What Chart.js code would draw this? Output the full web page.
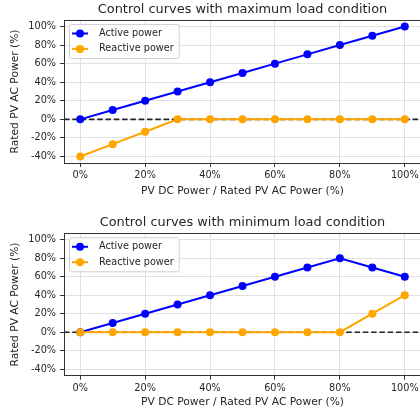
<!DOCTYPE html>
<html>
<head>
<meta charset="utf-8">
<script src="https://cdn.jsdelivr.net/npm/chart.js@4.4.1/dist/chart.umd.min.js"></script>
<style>
  html, body { margin: 0; padding: 0; background: #fff; width: 420px; height: 414px; overflow: hidden; }
  .panel { position: absolute; left: 0; width: 420px; overflow: hidden; }
  canvas { display: block; }
</style>
</head>
<body>
<div class="panel" style="top:0;height:200px"><canvas id="maxLoad" width="440" height="200" style="width:440px;height:200px"></canvas></div>
<div class="panel" style="top:200px;height:214px"><canvas id="minLoad" width="440" height="214" style="width:440px;height:214px"></canvas></div>
<script>
// PV DC power / rated AC power (%) at each control point
const dcPower = [0, 10, 20, 30, 40, 50, 60, 70, 80, 90, 100];

// maximum load condition
const activeMax = [0, 10, 20, 30, 40, 50, 60, 70, 80, 90, 100];
const reactiveMax = [-40, -26.7, -13.3, 0, 0, 0, 0, 0, 0, 0, 0];

// minimum load condition
const activeMin = [0, 10, 20, 30, 40, 50, 60, 70, 80, 70, 60];
const reactiveMin = [0, 0, 0, 0, 0, 0, 0, 0, 0, 20, 40];

const xTicks = [0, 20, 40, 60, 80, 100];
const yTicks = [-40, -20, 0, 20, 40, 60, 80, 100];
const xRange = [-5, 105];
const yRange = [-47, 107];

const FONT = 'DejaVu Sans';
const TEXT = '#262626';

const pts = (ys) => dcPower.map((x, i) => ({ x, y: ys[i] }));

// box around the plot area + legend drawn inside, top-left
const framePlugin = {
  id: 'frameAndLegend',
  afterDraw(chart) {
    const { ctx, chartArea: a } = chart;
    ctx.save();
    ctx.strokeStyle = '#333';
    ctx.lineWidth = 1;
    ctx.strokeRect(Math.round(a.left) + 0.5, Math.round(a.top) + 0.5,
      Math.round(a.right - a.left), Math.round(a.bottom - a.top));

    const items = chart.data.datasets.filter(d => d.label);
    ctx.font = '9.7px "' + FONT + '"';
    const textW = Math.max(...items.map(d => ctx.measureText(d.label).width));
    const bx = a.left + 5, by = a.top + 4;
    const bw = 30 + textW + 5, bh = 34;
    ctx.fillStyle = 'rgba(255,255,255,0.85)';
    ctx.strokeStyle = '#d0d0d0';
    ctx.beginPath();
    ctx.roundRect(bx + 0.5, by + 0.5, bw, bh, 2);
    ctx.fill();
    ctx.stroke();
    items.forEach((d, i) => {
      const cy = by + 9.5 + i * 15.4;
      ctx.strokeStyle = d.borderColor;
      ctx.lineWidth = 2;
      ctx.beginPath();
      ctx.moveTo(bx + 3, cy);
      ctx.lineTo(bx + 19, cy);
      ctx.stroke();
      ctx.fillStyle = d.borderColor;
      ctx.beginPath();
      ctx.arc(bx + 11, cy, 4, 0, Math.PI * 2);
      ctx.fill();
      ctx.fillStyle = TEXT;
      ctx.textBaseline = 'middle';
      ctx.fillText(d.label, bx + 30, cy);
    });
    ctx.restore();
  }
};

function makeChart(id, title, active, reactive, g) {
  return new Chart(document.getElementById(id), {
    type: 'line',
    data: {
      datasets: [
        { label: 'Active power', data: pts(active), borderColor: '#0000ff', backgroundColor: '#0000ff',
          borderWidth: 2, pointRadius: 4, pointBorderWidth: 0, order: 1 },
        { label: 'Reactive power', data: pts(reactive), borderColor: '#ffa500', backgroundColor: '#ffa500',
          borderWidth: 2, pointRadius: 4, pointBorderWidth: 0, order: 0 },
        { data: xRange.map(x => ({ x, y: 0 })), borderColor: '#222', borderWidth: 1.6,
          borderDash: [5.5, 2.8], pointRadius: 0, order: 2 }
      ]
    },
    options: {
      responsive: false,
      animation: false,
      events: [],
      layout: { padding: { left: 0, right: 19, top: 0, bottom: 0 } },
      plugins: {
        legend: { display: false },
        tooltip: { enabled: false },
        title: {
          display: true, text: title, color: TEXT, fullSize: false,
          font: { family: FONT, size: 12.9, weight: 'normal' },
          padding: { top: g.titleTop, bottom: g.titleBottom }
        }
      },
      scales: {
        x: {
          type: 'linear', min: xRange[0], max: xRange[1],
          afterBuildTicks: s => { s.ticks = xTicks.map(value => ({ value })); },
          afterFit: s => { s.height = g.xHeight; },
          border: { display: false },
          grid: { color: '#e0e0e0', tickColor: '#333', tickLength: 4, lineWidth: 1 },
          ticks: { color: TEXT, padding: 2.5, maxRotation: 0, font: { family: FONT, size: 9.7 },
                   callback: v => v + '%' },
          title: { display: true, text: 'PV DC Power / Rated PV AC Power (%)', color: TEXT,
                   font: { family: FONT, size: 10.7 }, padding: { top: 0, bottom: g.xTitleBottom } }
        },
        y: {
          type: 'linear', min: yRange[0], max: yRange[1],
          afterBuildTicks: s => { s.ticks = yTicks.map(value => ({ value })); },
          afterFit: s => { s.width = 64; },
          border: { display: false },
          grid: { color: '#e0e0e0', tickColor: '#333', tickLength: 4, lineWidth: 1 },
          ticks: { color: TEXT, padding: 4, font: { family: FONT, size: 9.7 },
                   callback: v => v + '%' },
          title: { display: true, text: 'Rated PV AC Power (%)', color: TEXT,
                   font: { family: FONT, size: 10.7 }, padding: { top: 8.6, bottom: 0 } }
        }
      }
    },
    plugins: [framePlugin]
  });
}

makeChart('maxLoad', 'Control curves with maximum load condition', activeMax, reactiveMax,
  { titleTop: 2.3, titleBottom: 2.2, xHeight: 37, xTitleBottom: 2.6 });
makeChart('minLoad', 'Control curves with minimum load condition', activeMin, reactiveMin,
  { titleTop: 15.3, titleBottom: 2.5, xHeight: 38.3, xTitleBottom: 5.6 });
</script>
</body>
</html>
